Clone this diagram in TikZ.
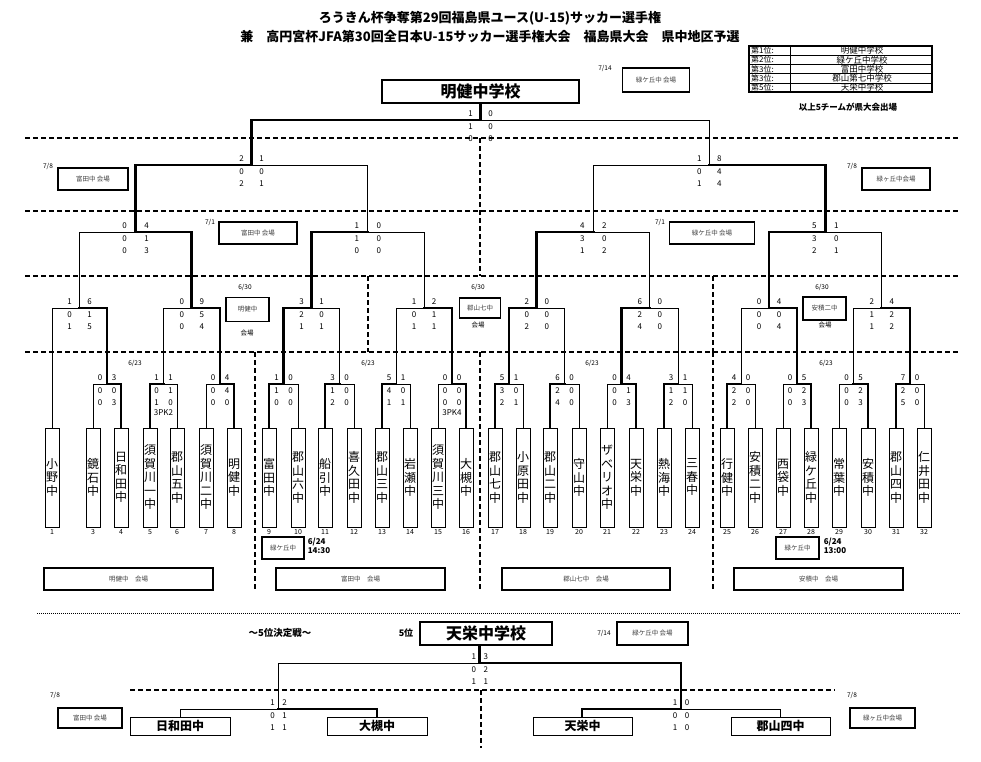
\documentclass[tikz,border=0pt]{standalone}
\usepackage{fontspec}
\setmainfont{Noto Sans CJK JP}
\begin{document}
\begin{tikzpicture}[x=1pt,y=-1pt,
 win/.style={line width=2.6pt,line cap=rect},
 lose/.style={line width=0.6pt},
 dsh/.style={line width=1.1pt,dash pattern=on 5pt off 3pt},
 sc/.style={font=\fontsize{8}{8}\selectfont,inner sep=0pt},
 team/.style={draw,line width=0.6pt,minimum width=14pt,minimum height=99pt,inner sep=0pt,align=center,font=\fontsize{12}{13.5}\selectfont},
 num/.style={font=\fontsize{7}{7}\selectfont,inner sep=0pt},
 ven/.style={draw,line width=1.4pt,inner sep=0pt,font=\fontsize{6.5}{6.5}\selectfont,text=black!75},
 dt/.style={font=\fontsize{6.5}{6.5}\selectfont,inner sep=0pt},
 big/.style={draw,line width=1.6pt,inner sep=0pt,font=\bfseries\fontsize{16}{16}\selectfont},
 ft/.style={draw,line width=0.6pt,inner sep=0pt,font=\bfseries\fontsize{12}{12}\selectfont}]
\useasboundingbox (0,0) rectangle (981,761);
\newcommand\mt[9]{%
 \pgfmathsetmacro\mm{(#1+#2)/2}%
 \ifnum#6=0
  \draw[win] (#1,#4)--(#1,#3)--(\mm,#3); \draw[lose] (\mm,#3)--(#2,#3)--(#2,#5);
 \else
  \draw[lose] (#1,#4)--(#1,#3)--(\mm,#3); \draw[win] (\mm,#3)--(#2,#3)--(#2,#5);
 \fi
 \foreach \a [count=\i] in {#8}{\pgfmathsetmacro\yy{#3+(\i==1?-6:12*\i-17)}\node[sc] at (\mm-#7,\yy){\a};}
 \foreach \a [count=\i] in {#9}{\pgfmathsetmacro\yy{#3+(\i==1?-6:12*\i-17)}\node[sc] at (\mm+#7,\yy){\a};}
}
% titles
\node[font=\bfseries\fontsize{13}{13}\selectfont] (t1) at (490,18) {ろうきん杯争奪第29回福島県ユース(U-15)サッカー選手権};
\node[font=\bfseries\fontsize{13}{13}\selectfont] (t2) at (490,37) {兼　高円宮杯JFA第30回全日本U-15サッカー選手権大会　福島県大会　県中地区予選};
% ranking
\draw[line width=1.4pt] (749,46) rectangle (932,92);
\foreach \r/\n [count=\i] in {第1位:/明健中学校,第2位:/緑ケ丘中学校,第3位:/富田中学校,第3位:/郡山第七中学校,第5位:/天栄中学校}{
 \pgfmathsetmacro\yy{46+9.2*\i-4.6}
 \node[font=\fontsize{8}{8}\selectfont,anchor=west,inner sep=0pt] at (751,\yy) {\r};
 \node[font=\fontsize{8.5}{8.5}\selectfont,inner sep=0pt] at (862,\yy) {\n};
 \ifnum\i<5 \draw[line width=0.6pt] (749,46+9.2*\i)--(932,46+9.2*\i);\fi}
\draw[line width=0.6pt] (790,46)--(790,92);
\node[font=\bfseries\fontsize{8.5}{8.5}\selectfont] (note) at (848,107) {以上5チームが県大会出場};
% champion
\node[big,minimum width=197pt,minimum height=23pt] (champ) at (480.5,91.5) {明健中学校};
\node[dt] at (605,68) {7/14};
\node[ven,minimum width=67pt,minimum height=24pt] (v714) at (656,80) {緑ケ丘中 会場};
% dashed lines
\draw[dsh] (25,138)--(960,138); \draw[dsh] (25,211)--(960,211);
\draw[dsh] (25,276)--(960,276); \draw[dsh] (25,352)--(960,352);
\draw[dsh] (480,138)--(480,276);
\draw[dsh] (368,276)--(368,352); \draw[dsh] (713,276)--(713,352);
\draw[dsh] (255,352)--(255,590); \draw[dsh] (480,352)--(480,590); \draw[dsh] (713,352)--(713,590);
% teams
\foreach \x/\n/\t in {52/1/小\\野\\中,93/3/鏡\\石\\中,121/4/日\\和\\田\\中,150/5/須\\賀\\川\\一\\中,177/6/郡\\山\\五\\中,206/7/須\\賀\\川\\二\\中,234/8/明\\健\\中,269/9/富\\田\\中,298/10/郡\\山\\六\\中,325/11/船\\引\\中,354/12/喜\\久\\田\\中,382/13/郡\\山\\三\\中,410/14/岩\\瀬\\中,438/15/須\\賀\\川\\三\\中,466/16/大\\槻\\中,495/17/郡\\山\\七\\中,523/18/小\\原\\田\\中,550/19/郡\\山\\二\\中,579/20/守\\山\\中,607/21/ザ\\ベ\\リ\\オ\\中,636/22/天\\栄\\中,664/23/熱\\海\\中,692/24/三\\春\\中,727/25/行\\健\\中,755/26/安\\積\\二\\中,783/27/西\\袋\\中,811/28/緑\\ケ\\丘\\中,839/29/常\\葉\\中,868/30/安\\積\\中,896/31/郡\\山\\四\\中,924/32/仁\\井\\田\\中}{
 \node[team] (team\n) at (\x,477.5) {\t};
 \node[num] (n\n) at (\x,532) {\n};}
% round 1
\mt{93}{121}{384}{428}{428}{1}{7}{0,0,0}{3,0,3}
\mt{150}{177}{384}{428}{428}{0}{7}{1,0,1}{1,1,0}
\mt{206}{234}{384}{428}{428}{1}{7}{0,0,0}{4,4,0}
\mt{269}{298}{384}{428}{428}{0}{7}{1,1,0}{0,0,0}
\mt{325}{354}{384}{428}{428}{0}{7}{3,1,2}{0,0,0}
\mt{382}{410}{384}{428}{428}{0}{7}{5,4,1}{1,0,1}
\mt{438}{466}{384}{428}{428}{1}{7}{0,0,0}{0,0,0}
\mt{495}{523}{384}{428}{428}{0}{7}{5,3,2}{1,0,1}
\mt{550}{579}{384}{428}{428}{0}{7}{6,2,4}{0,0,0}
\mt{607}{636}{384}{428}{428}{1}{7}{0,0,0}{4,1,3}
\mt{664}{692}{384}{428}{428}{0}{7}{3,1,2}{1,1,0}
\mt{727}{755}{384}{428}{428}{0}{7}{4,2,2}{0,0,0}
\mt{783}{811}{384}{428}{428}{1}{7}{0,0,0}{5,2,3}
\mt{839}{868}{384}{428}{428}{1}{7}{0,0,0}{5,2,3}
\mt{896}{924}{384}{428}{428}{0}{7}{7,2,5}{0,0,0}
\node[sc] at (163.5,413) {3PK2};
\node[sc] at (452,413) {3PK4};
% round 2
\mt{52}{107}{308}{428}{384}{1}{10}{1,0,1}{6,1,5}
\mt{163.5}{220}{308}{384}{384}{1}{10}{0,0,0}{9,5,4}
\mt{283.5}{339.5}{308}{384}{384}{0}{10}{3,2,1}{1,0,1}
\mt{396}{452}{308}{384}{384}{1}{10}{1,0,1}{2,1,1}
\mt{509}{564.5}{308}{384}{384}{0}{10}{2,0,2}{0,0,0}
\mt{621.5}{678}{308}{384}{384}{0}{10}{6,2,4}{0,0,0}
\mt{741}{797}{308}{384}{384}{1}{10}{0,0,0}{4,0,4}
\mt{853.5}{910}{308}{384}{384}{1}{10}{2,1,1}{4,2,2}
% round 3
\mt{79.5}{191.75}{232}{308}{308}{1}{11}{0,0,0}{4,1,3}
\mt{311.5}{424}{232}{308}{308}{0}{11}{1,1,0}{0,0,0}
\mt{536.75}{649.75}{232}{308}{308}{0}{11}{4,3,1}{2,0,2}
\mt{769}{881.75}{232}{308}{308}{0}{11}{5,3,2}{1,0,1}
% round 4
\mt{135.625}{367.75}{165}{232}{232}{0}{10}{2,0,2}{1,0,1}
\mt{593.25}{825.375}{165}{232}{232}{1}{10}{1,0,1}{8,4,4}
% final
\mt{251.69}{709.31}{120}{165}{165}{0}{10}{1,1,0}{0,0,0}
\draw[win] (480.5,120)--(champ.south);
% venues
\node[dt] at (48,166) {7/8};
\node[ven,minimum width=70pt,minimum height=22pt] (v78l) at (93,179) {富田中 会場};
\node[dt] at (852,166) {7/8};
\node[ven,minimum width=68pt,minimum height=22pt] (v78r) at (896,179) {緑ヶ丘中会場};
\node[dt] at (210,222) {7/1};
\node[ven,minimum width=78pt,minimum height=22pt] (v71l) at (258,233) {富田中 会場};
\node[dt] at (660,222) {7/1};
\node[ven,minimum width=85pt,minimum height=22pt] (v71r) at (712,233) {緑ケ丘中 会場};
\node[dt] at (245,287) {6/30};
\node[ven,minimum width=43pt,minimum height=24pt] (v630a) at (247.5,309.5) {明健中};
\node[dt] at (247,333) {会場};
\node[dt] at (478,287) {6/30};
\node[ven,minimum width=41pt,minimum height=20pt] (v630b) at (480,308) {郡山七中};
\node[dt] at (478,325) {会場};
\node[dt] at (822,287) {6/30};
\node[ven,minimum width=43pt,minimum height=23pt] (v630c) at (824.5,308.5) {安積二中};
\node[dt] at (825,325) {会場};
\foreach \x in {135,368,592,826}{\node[dt] at (\x,363) {6/23};}
\node[ven,minimum width=42pt,minimum height=22pt] (v624a) at (283,548) {緑ケ丘中};
\node[font=\bfseries\fontsize{8}{8.5}\selectfont,align=left,inner sep=0pt] (d624a) at (319,546) {6/24\\14:30};
\node[ven,minimum width=43pt,minimum height=22pt] (v624b) at (797.5,548) {緑ケ丘中};
\node[font=\bfseries\fontsize{8}{8.5}\selectfont,align=left,inner sep=0pt] (d624b) at (835,546) {6/24\\13:00};
\node[ven,minimum width=169pt,minimum height=22pt] (b1) at (128.5,579) {明健中　会場};
\node[ven,minimum width=169pt,minimum height=22pt] (b2) at (360.5,579) {富田中　会場};
\node[ven,minimum width=168pt,minimum height=22pt] (b3) at (586,579) {郡山七中　会場};
\node[ven,minimum width=169pt,minimum height=22pt] (b4) at (818.5,579) {安積中　会場};
% fifth place
\draw[line width=0.8pt,dash pattern=on 1pt off 1pt] (37,613)--(960,613);
\node[font=\bfseries\fontsize{9.5}{9.5}\selectfont] (ttl5) at (280,633) {～5位決定戦～};
\node[font=\bfseries\fontsize{9}{9}\selectfont] (p5) at (406,633) {5位};
\node[big,minimum width=132pt,minimum height=23pt] (fifth) at (486,633.5) {天栄中学校};
\node[dt] at (604,633) {7/14};
\node[ven,minimum width=71pt,minimum height=23pt] (v714b) at (652.5,633.5) {緑ケ丘中 会場};
\draw[dsh] (130,690)--(835,690);
\draw[dsh] (481,690)--(481,748);
\node[ft,minimum width=100pt,minimum height=18pt] (f1) at (180,726) {日和田中};
\node[ft,minimum width=100pt,minimum height=18pt] (f2) at (377,726) {大槻中};
\node[ft,minimum width=99pt,minimum height=18pt] (f3) at (582.5,726) {天栄中};
\node[ft,minimum width=99pt,minimum height=18pt] (f4) at (780.5,726) {郡山四中};
\mt{180}{377}{709}{717}{717}{1}{6}{1,0,1}{2,1,1}
\mt{582}{780}{709}{717}{717}{0}{6}{1,0,1}{0,0,0}
\mt{278.5}{681}{663}{709}{709}{1}{6}{1,0,1}{3,2,1}
\draw[win] (479.75,663)--(681,663);
\draw[win] (479.75,663)--(fifth.south -| 479.75,663);
\node[dt] at (55,695) {7/8};
\node[ven,minimum width=64pt,minimum height=20pt] (v78c) at (90,718) {富田中 会場};
\node[dt] at (852,695) {7/8};
\node[ven,minimum width=65pt,minimum height=20pt] (v78d) at (882.5,718) {緑ヶ丘中会場};
\end{tikzpicture}
\end{document}
